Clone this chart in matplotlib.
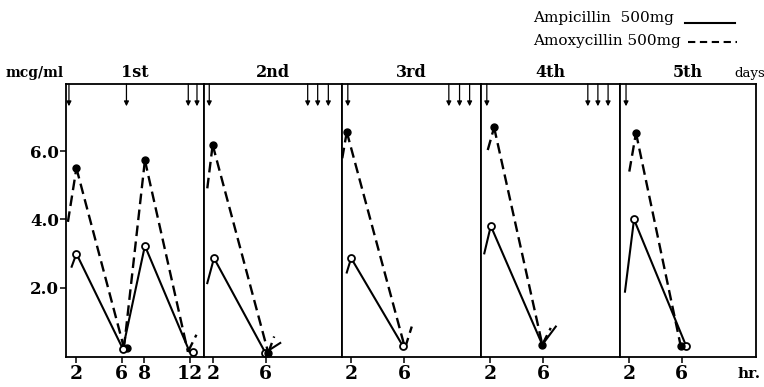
import matplotlib
matplotlib.use("Agg")
import matplotlib.pyplot as plt

# ---- data ----
days = ["1st", "2nd", "3rd", "4th", "5th"]
tick_hours = [[2, 6, 8, 12], [2, 6], [2, 6], [2, 6], [2, 6]]
y_ticks = [2.0, 4.0, 6.0]

# Amoxycillin 500mg (dashed, filled dots); first/last points of a panel may be curve stubs
amox_t = [[1.25, 2.0, 6.2, 8.05, 11.85, 12.6],
          [1.55, 1.96, 6.19, 6.64],
          [1.32, 1.66, 6.06, 6.57],
          [1.81, 2.29, 5.93, 6.57],
          [2.01, 2.52, 5.93]]
amox_c = [[3.93, 5.5, 0.25, 5.73, 0.13, 0.63],
          [4.91, 6.18, 0.10, 0.58],
          [5.79, 6.56, 0.24, 0.87],
          [6.03, 6.69, 0.34, 0.83],
          [5.40, 6.53, 0.31]]
amox_marks = [[1, 3], [1, 2], [1], [1, 2], [1, 2]]
amox_extra_dots = [[(6.45, 0.25)], [], [], [], []]

# Ampicillin 500mg (solid, open circles)
ampi_t = [[1.58, 2.0, 6.1, 8.05, 12.0],
          [1.55, 2.06, 5.96, 7.1],
          [1.66, 1.99, 5.9],
          [1.55, 2.04, 5.93, 6.95],
          [1.68, 2.37, 6.34]]
ampi_c = [[2.62, 3.0, 0.22, 3.23, 0.13],
          [2.14, 2.87, 0.11, 0.39],
          [2.45, 2.87, 0.30],
          [3.01, 3.81, 0.34, 0.87],
          [1.89, 4.00, 0.31]]
ampi_marks = [[1, 2, 3], [1, 2], [1, 2], [1], [1, 2]]
ampi_extra_circles = [[(12.3, 0.13)], [], [], [], []]

# dose arrows (hours)
doses = [[1.34, 6.42, 11.88, 12.65],
         [1.70, 9.19, 9.95, 10.76],
         [1.74, 9.37, 10.18, 10.94],
         [1.74, 9.37, 10.13, 10.9],
         [1.76]]

# ---- layout ----
W, H = 764, 387
fig = plt.figure(figsize=(W / 100, H / 100), dpi=100)
serif = ["DejaVu Serif"]
edges = [66, 204, 342, 481, 620, 756]
xlims = [(1.08, 13.27), (1.3, 11.8), (1.3, 11.8), (1.3, 11.8), (1.3, 11.68)]
ytop, ybot = 84, 357
ylim = (-0.02, 7.96)
dash = (0, (4.5, 2.3))

for i in range(5):
    x0, x1 = edges[i], edges[i + 1]
    ax = fig.add_axes([x0 / W, 1 - ybot / H, (x1 - x0) / W, (ybot - ytop) / H])
    ax.set_xlim(*xlims[i])
    ax.set_ylim(*ylim)
    for s in ax.spines.values():
        s.set_linewidth(1.3)
        s.set_color("black")
    ax.set_xticks(tick_hours[i])
    ax.set_xticklabels([str(t) for t in tick_hours[i]], fontfamily=serif,
                       fontweight="bold", fontsize=13.5)
    ax.tick_params(axis="x", direction="out", length=4, width=1.1, pad=2)
    if i == 0:
        ax.set_yticks(y_ticks)
        ax.set_yticklabels([f"{v:.1f}" for v in y_ticks], fontfamily=serif,
                           fontweight="bold", fontsize=12)
        ax.tick_params(axis="y", direction="out", length=4, width=1.1, pad=1)
    else:
        ax.set_yticks([])
    ax.set_title(days[i], fontfamily=serif, fontweight="bold", fontsize=11.5, pad=5)

    # amoxycillin dashed: each segment drawn on its own so short stubs show a dash
    t, c = amox_t[i], amox_c[i]
    for k in range(len(t) - 1):
        ax.plot(t[k:k + 2], c[k:k + 2], color="black", lw=1.7, ls=dash,
                clip_on=False)
    ax.plot([t[k] for k in amox_marks[i]], [c[k] for k in amox_marks[i]], "o",
            color="black", markersize=5, clip_on=False, zorder=3)
    for (xx, yy) in amox_extra_dots[i]:
        ax.plot([xx], [yy], "o", color="black", markersize=5, clip_on=False)
    # ampicillin solid
    ax.plot(ampi_t[i], ampi_c[i], color="black", lw=1.5, ls="-",
            marker="o", markersize=5, markerfacecolor="white",
            markeredgewidth=1.3, markevery=ampi_marks[i], clip_on=False)
    for (xx, yy) in ampi_extra_circles[i]:
        ax.plot([xx], [yy], "o", color="black", markersize=5,
                markerfacecolor="white", markeredgewidth=1.3, clip_on=False)

    # dose arrows
    for d in doses[i]:
        ax.annotate("", xy=(d, ylim[1] - 0.65), xytext=(d, ylim[1]),
                    arrowprops=dict(arrowstyle="-|>", lw=0.9, color="black",
                                    mutation_scale=7, shrinkA=0, shrinkB=0))

fig.text(6 / W, 1 - 77 / H, "mcg/ml", fontfamily=serif, fontweight="bold",
         fontsize=10, ha="left", va="baseline")
fig.text(734 / W, 1 - 77 / H, "days", fontfamily=serif, fontsize=9.5,
         ha="left", va="baseline")
fig.text(738 / W, 1 - 378 / H, "hr.", fontfamily=serif, fontweight="bold",
         fontsize=11, ha="left", va="baseline")

# legend
fig.text(533 / W, 1 - 22 / H, "Ampicillin  500mg", fontfamily=serif,
         fontsize=11, ha="left", va="baseline")
fig.text(533 / W, 1 - 45 / H, "Amoxycillin 500mg", fontfamily=serif,
         fontsize=11, ha="left", va="baseline")
fig.add_artist(plt.Line2D([685 / W, 735 / W], [1 - 23 / H, 1 - 23 / H],
                          color="black", lw=1.5))
fig.add_artist(plt.Line2D([688 / W, 737 / W], [1 - 42 / H, 1 - 42 / H],
                          color="black", lw=1.5, ls=(0, (3.5, 2.2))))

fig.savefig("out.png", dpi=100)
